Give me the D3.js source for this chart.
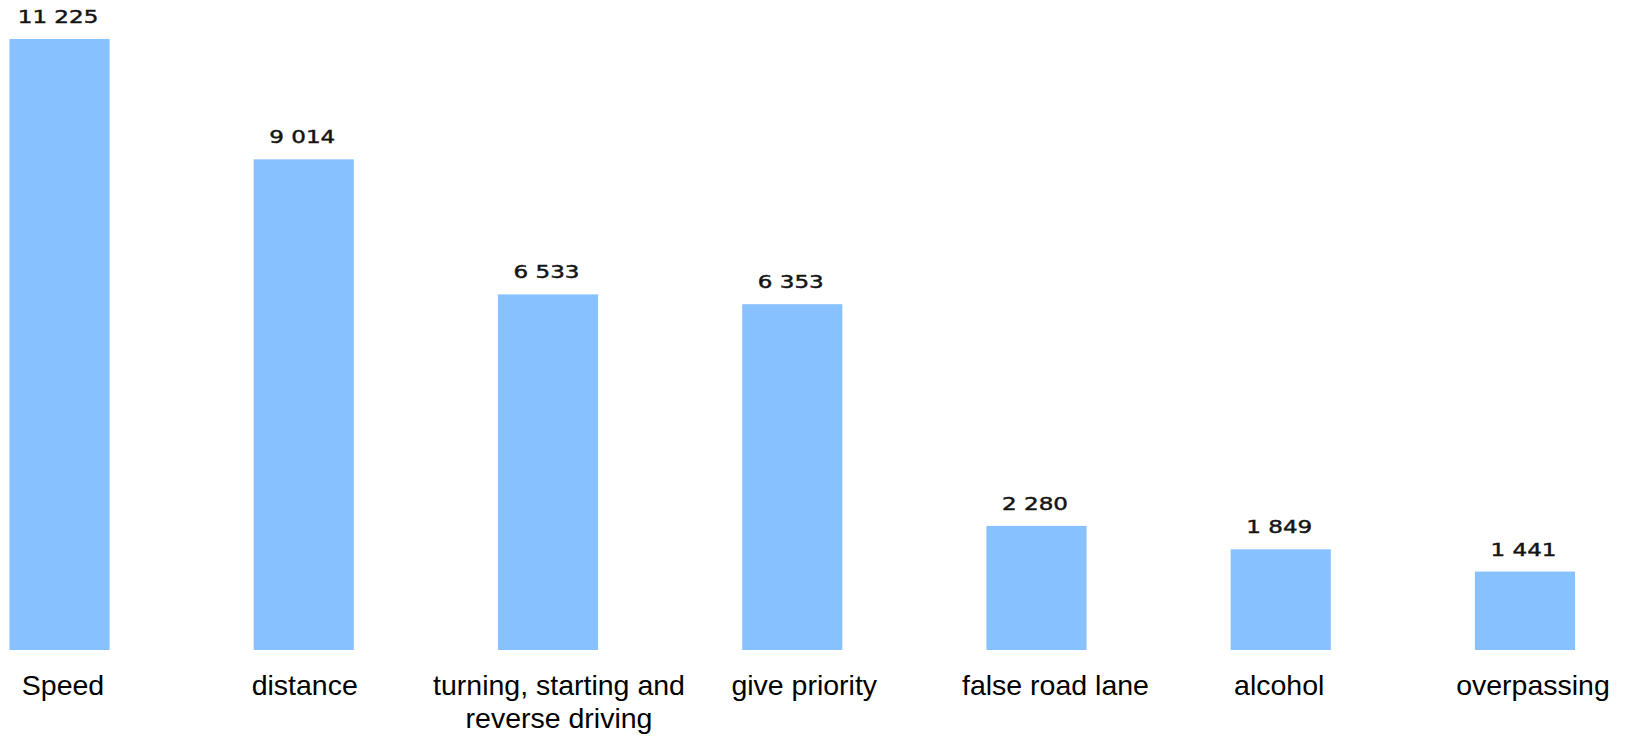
<!DOCTYPE html>
<html>
<head>
<meta charset="utf-8">
<script src="https://cdn.jsdelivr.net/npm/d3@7"></script>
<style>
  body { margin: 0; background: #fff; }
  .val { font: 18px "DejaVu Sans", sans-serif; fill: #141414; stroke: #141414; stroke-width: 0.45px; }
  .cat { font: 28.5px "Liberation Sans", Arial, sans-serif; fill: #000; }
</style>
</head>
<body>
<script>
// data
const categories = ['Speed', 'distance', 'turning, starting and\nreverse driving', 'give priority',
  'false road lane', 'alcohol', 'overpassing']
const counts = [11225, 9014, 6533, 6353, 2280, 1849, 1441]
const valueLabels = ['11 225', '9 014', '6 533', '6 353', '2 280', '1 849', '1 441']

// category labels in the original are not quite centred under the bars
const labelDx = [3.5, 1, 11, 12, 19, -1.5, 8]

const W = 1625, H = 737
const svg = d3.select('body').append('svg').attr('width', W).attr('height', H)

const x = d3.scaleBand()
  .domain(categories)
  .range([-62.6, 1647.1])
  .paddingInner(0.59)
  .paddingOuter(0.295)

const y = d3.scaleLinear().domain([0, 11225]).range([650, 39])

const cx = i => x(categories[i]) + x.bandwidth() / 2

svg.selectAll('rect')
  .data(counts)
  .enter()
  .append('rect')
  .attr('x', (d, i) => x(categories[i]))
  .attr('width', x.bandwidth())
  .attr('y', d => y(d))
  .attr('height', d => y(0) - y(d))
  .attr('fill', '#88c1ff')

// value labels: the source font is drawn wide, so stretch horizontally
svg.selectAll('.val')
  .data(counts)
  .enter()
  .append('text')
  .attr('class', 'val')
  .attr('text-anchor', 'middle')
  .attr('transform', (d, i) => `translate(${cx(i) - 1.5},${y(d) - 16}) scale(1.28,1)`)
  .text((d, i) => valueLabels[i])

let cat = svg.selectAll('.cat')
  .data(categories)
  .enter()
  .append('text')
  .attr('class', 'cat')
  .attr('text-anchor', 'middle')
  .attr('y', 695)

cat.selectAll('tspan')
  .data((d, i) => d.split('\n').map(s => ({ s, i })))
  .enter()
  .append('tspan')
  .attr('x', d => cx(d.i) + labelDx[d.i])
  .attr('dy', (d, j) => j ? 33 : 0)
  .text(d => d.s)
</script>
</body>
</html>
